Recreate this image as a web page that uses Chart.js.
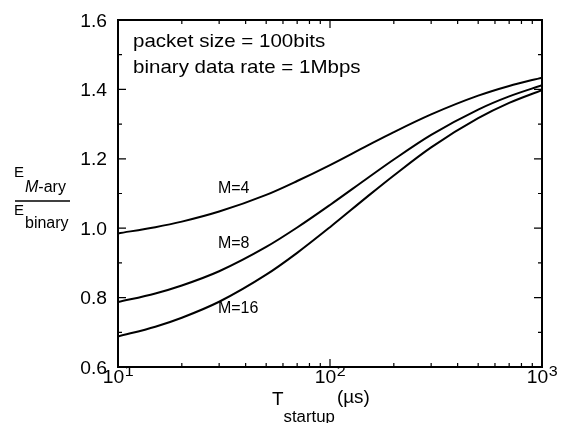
<!DOCTYPE html>
<html>
<head>
<meta charset="utf-8">
<script src="https://cdn.jsdelivr.net/npm/chart.js@4.4.1/dist/chart.umd.min.js"></script>
<style>
  html, body { margin: 0; padding: 0; background: #fff; }
</style>
</head>
<body>
<canvas id="chart" width="563" height="423"></canvas>
<script>
// values (T_startup in µs, energy ratio)
const startupTimes = [10, 15, 20, 30, 50, 70, 100, 150, 200, 300, 500, 700, 1000];
const ratioM4  = [0.985, 1.003, 1.019, 1.048, 1.096, 1.136, 1.182, 1.238, 1.277, 1.328, 1.382, 1.410, 1.434];
const ratioM8  = [0.787, 0.812, 0.835, 0.876, 0.946, 1.002, 1.067, 1.144, 1.198, 1.269, 1.342, 1.380, 1.412];
const ratioM16 = [0.688, 0.716, 0.742, 0.788, 0.866, 0.929, 1.003, 1.091, 1.152, 1.233, 1.317, 1.361, 1.398];
const seriesNames = ['M=4', 'M=8', 'M=16'];
const yTickValues = [0.6, 0.8, 1.0, 1.2, 1.4, 1.6];
const xTickExponents = [1, 2, 3];
const notes = ['packet size = 100bits', 'binary data rate = 1Mbps'];

const FONT = '"Liberation Sans", Arial, Helvetica, sans-serif';

function toPoints(ys) {
    return startupTimes.map((t, i) => ({ x: t, y: ys[i] }));
}

// where the curve names sit (data units: µs, ratio)
const nameAnchors = [[29.6, 1.101], [29.6, 0.942], [29.6, 0.755]];

// the reference's lettering is a little wide, so text is drawn slightly stretched
function wideText(ctx, text, x, y, font, sx, align) {
    ctx.font = font;
    const w = ctx.measureText(text).width * sx;
    let left = x;
    if (align === 'right') left = x - w;
    if (align === 'center') left = x - w / 2;
    ctx.save();
    ctx.translate(left, y);
    ctx.scale(sx, 1);
    ctx.textAlign = 'left';
    ctx.fillText(text, 0, 0);
    ctx.restore();
    return w;
}

const decorations = {
    id: 'decorations',
    afterDraw(chart) {
        const { ctx, chartArea: a, scales: { x, y } } = chart;
        ctx.save();
        ctx.strokeStyle = '#000';
        ctx.fillStyle = '#000';
        ctx.textBaseline = 'alphabetic';
        ctx.textAlign = 'left';

        // frame
        ctx.lineWidth = 2;
        ctx.strokeRect(a.left, a.top, a.right - a.left, a.bottom - a.top);

        // inward ticks on all four sides
        ctx.lineWidth = 1.2;
        ctx.beginPath();
        for (let i = 6; i <= 16; i++) {
            const py = y.getPixelForValue(i / 10);
            const len = i % 2 === 0 ? 8 : 4;
            ctx.moveTo(a.left, py); ctx.lineTo(a.left + len, py);
            ctx.moveTo(a.right, py); ctx.lineTo(a.right - len, py);
        }
        for (let d = 10; d < 1000; d *= 10) {
            for (let m = 1; m <= 10; m++) {
                const px = x.getPixelForValue(d * m);
                const len = (m === 1 || m === 10) ? 8 : 4;
                ctx.moveTo(px, a.bottom); ctx.lineTo(px, a.bottom - len);
                ctx.moveTo(px, a.top); ctx.lineTo(px, a.top + len);
            }
        }
        ctx.stroke();

        // y tick labels
        yTickValues.forEach(v => {
            wideText(ctx, v.toFixed(1), a.left - 11, y.getPixelForValue(v) + 6.5,
                '18px ' + FONT, 1.07, 'right');
        });

        // x tick labels 10^n
        xTickExponents.forEach(e => {
            const px = x.getPixelForValue(Math.pow(10, e));
            ctx.font = '18px ' + FONT;
            const wBase = ctx.measureText('10').width * 1.07;
            ctx.font = '15px ' + FONT;
            const wExp = ctx.measureText(String(e)).width * 1.07;
            const left = px - (wBase + wExp) / 2;
            wideText(ctx, '10', left, a.bottom + 16, '18px ' + FONT, 1.07, 'left');
            wideText(ctx, String(e), left + wBase + 0.5, a.bottom + 9, '15px ' + FONT, 1.07, 'left');
        });

        // notes in the top-left corner
        notes.forEach((t, i) => {
            wideText(ctx, t, a.left + 15, a.top + 27 + i * 26, '19px ' + FONT, 1.08, 'left');
        });

        // curve names
        ctx.font = '16px ' + FONT;
        seriesNames.forEach((n, i) => {
            const [vx, vy] = nameAnchors[i];
            ctx.fillText(n, x.getPixelForValue(vx), y.getPixelForValue(vy));
        });

        // y title: E_{M-ary} / E_binary
        ctx.font = '15px ' + FONT;
        ctx.fillText('E', 14, 177);
        ctx.font = 'italic 16px ' + FONT;
        ctx.fillText('M', 25, 192);
        const wM = ctx.measureText('M').width;
        ctx.font = '16px ' + FONT;
        ctx.fillText('-ary', 25 + wM, 192);
        ctx.lineWidth = 1.5;
        ctx.beginPath();
        ctx.moveTo(15, 201); ctx.lineTo(70, 201);
        ctx.stroke();
        ctx.font = '15px ' + FONT;
        ctx.fillText('E', 14, 215);
        ctx.font = '16px ' + FONT;
        ctx.fillText('binary', 25, 228);

        // x title: T_startup (µs)
        const wT = wideText(ctx, 'T', 272, 405, '18px ' + FONT, 1.05, 'left');
        const wS = wideText(ctx, 'startup', 272 + wT, 422, '16px ' + FONT, 1.05, 'left');
        wideText(ctx, '(\u00b5s)', 272 + wT + wS + 2, 403, '18px ' + FONT, 1.05, 'left');

        ctx.restore();
    }
};

const lineStyle = {
    borderColor: '#000',
    borderWidth: 2,
    pointRadius: 0,
    fill: false,
    cubicInterpolationMode: 'monotone'
};

new Chart(document.getElementById('chart').getContext('2d'), {
    type: 'line',
    data: {
        datasets: [
            { label: seriesNames[0], data: toPoints(ratioM4), ...lineStyle },
            { label: seriesNames[1], data: toPoints(ratioM8), ...lineStyle },
            { label: seriesNames[2], data: toPoints(ratioM16), ...lineStyle }
        ]
    },
    options: {
        responsive: false,
        animation: false,
        devicePixelRatio: 1,
        layout: { padding: { top: 20, right: 21, left: 0, bottom: 0 } },
        plugins: { legend: { display: false }, tooltip: { enabled: false } },
        scales: {
            x: {
                type: 'logarithmic',
                min: 10,
                max: 1000,
                grid: { display: false },
                border: { display: false },
                ticks: { display: false },
                afterFit(scale) { scale.height = 56; }
            },
            y: {
                min: 0.6,
                max: 1.6,
                grid: { display: false },
                border: { display: false },
                ticks: { display: false },
                afterFit(scale) { scale.width = 118; }
            }
        }
    },
    plugins: [decorations]
});
</script>
</body>
</html>
